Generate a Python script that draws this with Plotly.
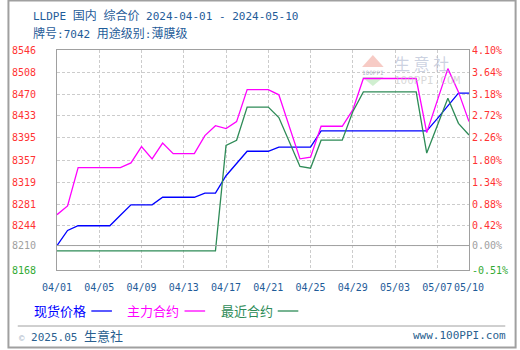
import pandas as pd
import plotly.graph_objects as go

# ---------------- data ----------------
DATES = pd.date_range("2024-04-01", "2024-05-10", freq="D")

SPOT = [8210, 8236, 8244, 8244, 8244, 8244, 8262, 8280, 8280, 8280,
        8293, 8293, 8293, 8293, 8300, 8300, 8330, 8352, 8372, 8372,
        8372, 8379, 8379, 8379, 8379, 8407, 8407, 8407, 8407, 8407,
        8407, 8407, 8407, 8407, 8407, 8407, 8428, 8450, 8472, 8472]

MAIN = [8263, 8278, 8344, 8344, 8344, 8344, 8344, 8352, 8380, 8359,
        8386, 8368, 8368, 8368, 8399, 8416, 8411, 8423, 8478, 8478,
        8478, 8469, 8414, 8359, 8362, 8415, 8415, 8415, 8443, 8497,
        8497, 8497, 8497, 8497, 8497, 8404, 8459, 8514, 8474, 8423]

NEAR = [8201, 8201, 8201, 8201, 8201, 8201, 8201, 8201, 8201, 8201,
        8201, 8201, 8201, 8201, 8201, 8201, 8382, 8391, 8448, 8448,
        8448, 8430, 8389, 8346, 8343, 8391, 8391, 8391, 8440, 8474,
        8474, 8474, 8474, 8474, 8474, 8369, 8416, 8463, 8420, 8400]

BASE = 8210
Y_TICKS = [8168, 8210, 8244, 8281, 8319, 8357, 8395, 8433, 8470, 8508, 8546]
Y_LABELS = ["8168", "8210", "8244", "8281", "8319", "8357", "8395", "8433", "8470", "8508", "8546"]
PCT_LABELS = ["-0.51%", "0.00%", "0.42%", "0.88%", "1.34%", "1.80%", "2.26%", "2.72%", "3.18%", "3.64%", "4.10%"]

X_TICKS = ["2024-04-01", "2024-04-05", "2024-04-09", "2024-04-13", "2024-04-17", "2024-04-21",
           "2024-04-25", "2024-04-29", "2024-05-03", "2024-05-07", "2024-05-10"]
X_LABELS = ["04/01", "04/05", "04/09", "04/13", "04/17", "04/21", "04/25", "04/29", "05/03", "05/07", "05/10"]

SERIES_NAMES = ["现货价格", "主力合约", "最近合约"]
COLORS = ["#0000FF", "#FF00FF", "#2E8B57"]

TITLE1 = "LLDPE 国内 综合价 2024-04-01 - 2024-05-10"
TITLE2 = "牌号:7042 用途级别:薄膜级"

# ---------------- styling ----------------
W, H = 520, 350
ML, MR, MT, MB = 50, 50, 50, 80
PW, PH = W - ML - MR, H - MT - MB
RED, GRAY, GREEN_T, DBLUE = "#FF3333", "#A0A0A0", "#33AA33", "#1F5C99"
FONT = "DejaVu Sans Mono, Noto Sans CJK SC"
CJK = "Noto Sans CJK SC"


def px(x):
    return (x - ML) / PW


def py(y):
    return (H - MB - y) / PH


def tick_color(v):
    if v == BASE:
        return GRAY
    return RED if v > BASE else GREEN_T


def cjk_span(s, size):
    out = ""
    for ch in s:
        if ord(ch) > 0x2E80:
            out += f'<span style="font-family:{CJK};font-size:{size}px">{ch}</span>'
        else:
            out += ch
    return out


left_text = [f'<span style="color:{tick_color(v)}">{t}</span>' for v, t in zip(Y_TICKS, Y_LABELS)]
right_text = [f'<span style="color:{tick_color(v)}">{t}</span>' for v, t in zip(Y_TICKS, PCT_LABELS)]

fig = go.Figure()
for vals, name, col in zip([SPOT, MAIN, NEAR], SERIES_NAMES, COLORS):
    fig.add_trace(go.Scatter(x=DATES, y=vals, mode="lines", name=name,
                             line=dict(color=col, width=1.3), showlegend=False))
# dummy trace to anchor the right axis
fig.add_trace(go.Scatter(x=DATES, y=SPOT, yaxis="y2", mode="lines", opacity=0,
                         line=dict(width=0), showlegend=False, hoverinfo="skip"))

fig.update_layout(
    width=W, height=H, margin=dict(l=ML, r=MR, t=MT, b=MB),
    paper_bgcolor="white", plot_bgcolor="white",
    font=dict(family=FONT, size=10, color=DBLUE),
    xaxis=dict(type="date", range=[X_TICKS[0], X_TICKS[-1]],
               tickvals=X_TICKS, ticktext=X_LABELS, ticks="", tickangle=0,
               tickfont=dict(family=FONT, size=10, color=DBLUE),
               ticklabelstandoff=8,
               showgrid=True, gridcolor="#CCCCCC", griddash="3px,2px", gridwidth=1,
               showline=True, linecolor=GRAY, linewidth=1, mirror=True,
               zeroline=False),
    yaxis=dict(range=[Y_TICKS[0], Y_TICKS[-1]], tickvals=Y_TICKS, ticktext=left_text,
               ticks="", tickfont=dict(family=FONT, size=10),
               ticklabelstandoff=18,
               showgrid=True, gridcolor="#CCCCCC", griddash="3px,2px", gridwidth=1,
               showline=True, linecolor=GRAY, linewidth=1, mirror=True,
               zeroline=False),
    yaxis2=dict(range=[Y_TICKS[0], Y_TICKS[-1]], tickvals=Y_TICKS, ticktext=right_text,
                overlaying="y", side="right", ticks="", showgrid=False,
                tickfont=dict(family=FONT, size=10), ticklabelstandoff=2,
                showline=False, zeroline=False),
)

shapes = []
# base line at 8210
shapes.append(dict(type="line", xref="paper", yref="y", x0=0, x1=1, y0=BASE, y1=BASE,
                   line=dict(color=GRAY, width=1)))
# outer border
shapes.append(dict(type="rect", xref="paper", yref="paper", x0=px(0.5), x1=px(517.5),
                   y0=py(0.5), y1=py(347.5), line=dict(color=GRAY, width=2), layer="below"))
# footer separator
shapes.append(dict(type="line", xref="paper", yref="paper", x0=px(10), x1=px(507),
                   y0=py(326), y1=py(326), line=dict(color=GRAY, width=1)))
# watermark logo
shapes.append(dict(type="path", xref="paper", yref="paper",
                   path=f"M {px(361)},{py(67)} L {px(372)},{py(55)} L {px(383)},{py(67)} Z",
                   fillcolor="rgba(240,160,150,0.55)", line=dict(width=0), layer="below"))
shapes.append(dict(type="path", xref="paper", yref="paper",
                   path=f"M {px(361)},{py(77)} L {px(383)},{py(77)} L {px(372)},{py(86)} Z",
                   fillcolor="rgba(170,225,170,0.55)", line=dict(width=0), layer="below"))

annotations = []
# titles
annotations.append(dict(xref="paper", yref="paper", x=px(24), y=py(15), xanchor="left", yanchor="middle",
                        text=cjk_span(TITLE1, 12), showarrow=False, font=dict(family=FONT, size=11, color=DBLUE)))
annotations.append(dict(xref="paper", yref="paper", x=px(24), y=py(33), xanchor="left", yanchor="middle",
                        text=cjk_span(TITLE2, 12), showarrow=False, font=dict(family=FONT, size=11, color=DBLUE)))
# legend
legend_text_x = [25, 119, 215]
legend_line_x = [85, 180, 275]
for name, col, tx, lx in zip(SERIES_NAMES, COLORS, legend_text_x, legend_line_x):
    annotations.append(dict(xref="paper", yref="paper", x=px(tx), y=py(310.5), xanchor="left", yanchor="middle",
                            text=name, showarrow=False, font=dict(family=CJK, size=13, color=col)))
    shapes.append(dict(type="line", xref="paper", yref="paper", x0=px(lx), x1=px(lx + 21),
                       y0=py(311), y1=py(311), line=dict(color=col, width=1.3)))
# footer
annotations.append(dict(xref="paper", yref="paper", x=px(9), y=py(335), xanchor="left", yanchor="middle",
                        text='<span style="color:#AAB8C8;font-size:9px">©</span> 2025.05 ' + cjk_span("生意社", 13),
                        showarrow=False, font=dict(family=FONT, size=11, color="#2A5F8F")))
annotations.append(dict(xref="paper", yref="paper", x=px(510), y=py(335), xanchor="right", yanchor="middle",
                        text="www.100PPI.com", showarrow=False, font=dict(family=FONT, size=11, color="#2A5F8F")))
# watermark text
annotations.append(dict(xref="paper", yref="paper", x=px(392), y=py(63), xanchor="left", yanchor="middle",
                        text="生 意 社", showarrow=False, font=dict(family=CJK, size=16, color="rgba(170,180,205,0.6)")))
annotations.append(dict(xref="paper", yref="paper", x=px(392), y=py(80), xanchor="left", yanchor="middle",
                        text="100PPI.COM", showarrow=False, font=dict(family=FONT, size=11, color="rgba(190,190,190,0.6)")))
annotations.append(dict(xref="paper", yref="paper", x=px(372), y=py(72), xanchor="center", yanchor="middle",
                        text="100PPI", showarrow=False, font=dict(family=FONT, size=6, color="rgba(140,150,170,0.7)")))

fig.update_layout(shapes=shapes, annotations=annotations)
fig.write_html("out.html")
